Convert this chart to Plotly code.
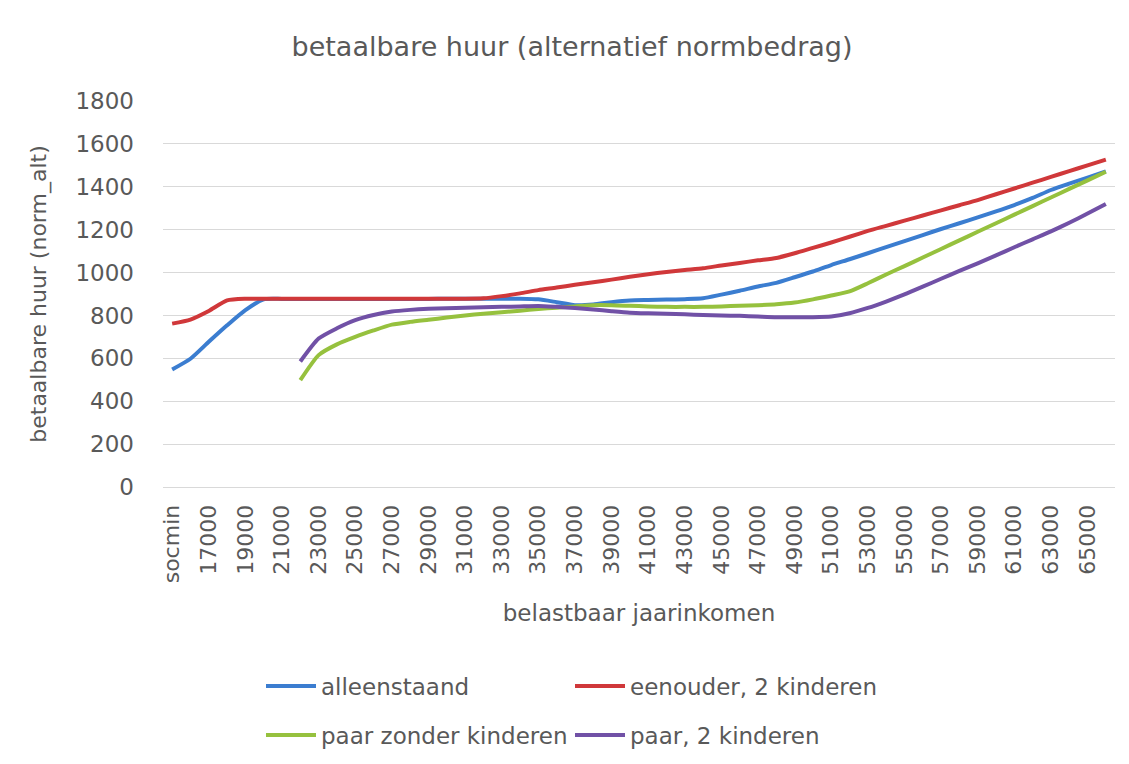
import plotly.graph_objects as go

categories = ["socmin"] + [str(v) for v in range(16000, 67000, 1000)]

alleenstaand = [548, 598, 677, 754, 825, 875, 877, 877, 877, 877, 877, 877, 877, 877, 877, 878,
                878, 878, 878, 878, 875, 862, 848, 851, 862, 870, 872, 874, 876, 880, 897, 915,
                935, 952, 978, 1005, 1035, 1062, 1090, 1119, 1147, 1175, 1203, 1230, 1257, 1285,
                1315, 1348, 1385, 1415, 1443, 1472]

eenouder = [762, 781, 821, 870, 878, 878, 878, 878, 878, 878, 878, 878, 878, 878, 878, 878,
            878, 880, 890, 903, 918, 930, 943, 955, 967, 980, 992, 1003, 1012, 1020, 1033, 1045,
            1057, 1068, 1090, 1115, 1140, 1167, 1194, 1218, 1242, 1266, 1290, 1314, 1338, 1365,
            1392, 1419, 1446, 1473, 1500, 1527]

paar_zonder = [None] * 7 + [498, 615, 665, 700, 730, 757, 770, 780, 790, 800, 808, 815, 822,
               830, 836, 842, 848, 848, 845, 842, 840, 840, 840, 842, 845, 848, 852, 860, 875,
               893, 912, 950, 991, 1030, 1070, 1110, 1150, 1190, 1230, 1270, 1310, 1350, 1390,
               1430, 1470]

paar_2k = [None] * 7 + [585, 692, 740, 778, 802, 818, 826, 831, 834, 836, 838, 840, 842, 844,
           840, 835, 828, 820, 813, 810, 808, 805, 802, 800, 798, 795, 792, 792, 792, 795, 810,
           835, 865, 898, 934, 971, 1008, 1043, 1080, 1118, 1155, 1192, 1232, 1275, 1320]

tick_labels = categories[::2]

series = [
    ("alleenstaand", alleenstaand, "#3B7DD0", "legend"),
    ("eenouder, 2 kinderen", eenouder, "#D0383A", "legend"),
    ("paar zonder kinderen", paar_zonder, "#96C13E", "legend2"),
    ("paar, 2 kinderen", paar_2k, "#7151A6", "legend2"),
]

FONT = "DejaVu Sans"
GREY = "#595959"
W, H = 1129, 764
OFF = 8  # page body margin offset

fig = go.Figure()
for name, vals, color, lg in series:
    fig.add_trace(go.Scatter(
        x=categories, y=vals, name=name, mode="lines",
        line=dict(color=color, width=4, shape="spline", smoothing=0.6),
        legend=lg, connectgaps=False,
    ))

legend_common = dict(orientation="h", xref="container", yref="container", x=253 / W,
                     xanchor="left", yanchor="middle", entrywidth=244, itemwidth=50,
                     font=dict(size=23, color=GREY, family=FONT), traceorder="normal",
                     bgcolor="rgba(0,0,0,0)")

fig.update_layout(
    width=W, height=H,
    margin=dict(l=163 - OFF, r=W - (1115 - OFF), t=101 - OFF, b=H - (487 - OFF), autoexpand=False),
    paper_bgcolor="white", plot_bgcolor="white",
    font=dict(family=FONT, color=GREY, size=22),
    title=dict(text="betaalbare huur (alternatief normbedrag)", x=(572 - OFF) / W, xanchor="center",
               xref="container", yref="container",
               y=1 - (47 - OFF) / H, yanchor="middle", font=dict(size=27, color=GREY, family=FONT)),
    showlegend=True,
    legend=dict(legend_common, y=1 - (686 - OFF) / H),
    legend2=dict(legend_common, y=1 - (735 - OFF) / H),
)

fig.update_xaxes(
    type="category", categoryorder="array", categoryarray=categories,
    range=[-0.5, len(categories) - 0.5],
    tickmode="array", tickvals=tick_labels, ticktext=tick_labels,
    tickangle=-90, tickfont=dict(size=22, color=GREY, family=FONT),
    showgrid=False, showline=True, linecolor="#d9d9d9", linewidth=1,
    ticks="", ticklabelstandoff=8, automargin=False,
    title=dict(text="belastbaar jaarinkomen", font=dict(size=23, color=GREY, family=FONT), standoff=22),
)
fig.update_yaxes(
    range=[0, 1800], dtick=200, tick0=0,
    showgrid=True, gridcolor="#d9d9d9", gridwidth=1,
    zeroline=True, zerolinecolor="#d9d9d9", zerolinewidth=1,
    tickfont=dict(size=23, color=GREY, family=FONT), ticks="", ticklabelstandoff=28,
    automargin=False,
    title=dict(text="betaalbare huur (norm_alt)", font=dict(size=22, color=GREY, family=FONT), standoff=22),
)

fig.write_html("out.html")
